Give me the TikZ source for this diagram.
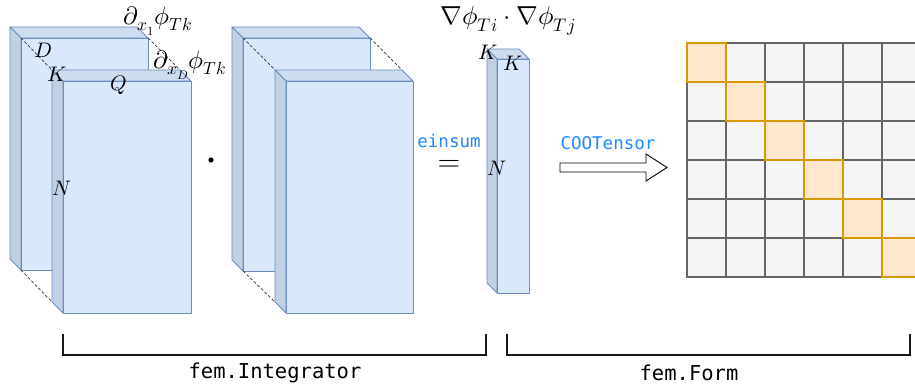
\documentclass[tikz,border=0pt]{standalone}
\usepackage{amsmath}
\usepackage{fontspec}
\usepackage{unicode-math}
\setmathfont{Latin Modern Math}
\setmonofont{DejaVu Sans Mono}
\usetikzlibrary{arrows.meta}

\definecolor{slabfront}{HTML}{DAE8FC}
\definecolor{slabline}{HTML}{6C8EBF}
\definecolor{slabtop}{HTML}{CEDCEF}
\definecolor{slabside}{HTML}{C2D0E4}
\definecolor{cellfill}{HTML}{F5F5F5}
\definecolor{cellline}{HTML}{666666}
\definecolor{diagfill}{HTML}{FFE6CC}
\definecolor{diagline}{HTML}{D79B00}
\definecolor{opblue}{HTML}{1E88FF}

\tikzset{
  slab/.style={draw=slabline, line width=0.9pt, line join=round},
  hidden/.style={densely dashed, line width=0.7pt, black!80},
  dimlbl/.style={inner sep=0pt, font=\fontsize{21}{23}\selectfont},
  mathlbl/.style={inner sep=0pt, font=\fontsize{25}{28}\selectfont},
  cell/.style={draw=cellline, fill=cellfill, line width=1.6pt, minimum size=39pt, inner sep=0pt},
  diag/.style={cell, draw=diagline, fill=diagfill},
  bracket/.style={line width=1.8pt, black!90},
  codelbl/.style={font=\ttfamily\fontsize{17.5}{20}\selectfont, text=opblue, inner sep=0pt},
}

% slab: name, x, y, width, height, depth (top-left of its box)
\newcommand{\slab}[6]{%
  \coordinate (#1-btl) at (#2,#3);
  \coordinate (#1-btr) at ({#2+#4-#6},#3);
  \coordinate (#1-ftl) at ({#2+#6},{#3+#6});
  \coordinate (#1-ftr) at ({#2+#4},{#3+#6});
  \coordinate (#1-fbr) at ({#2+#4},{#3+#5});
  \coordinate (#1-fbl) at ({#2+#6},{#3+#5});
  \coordinate (#1-bbl) at (#2,{#3+#5-#6});
  \draw[slab, fill=slabtop] (#1-btl) -- (#1-btr) -- (#1-ftr) -- (#1-ftl) -- cycle;
  \draw[slab, fill=slabside] (#1-btl) -- (#1-ftl) -- (#1-fbl) -- (#1-bbl) -- cycle;
  \draw[slab, fill=slabfront] (#1-ftl) rectangle (#1-fbr);
}

\begin{document}
\begin{tikzpicture}[x=1pt, y=-1pt]
\useasboundingbox (0,0) rectangle (915,387);

% gradient tensor
\slab{ga}{10}{27}{138}{243}{11}
\draw[hidden] (ga-ftl) -- (52,70);
\draw[hidden] (ga-ftr) -- (180,70);
\draw[hidden] (ga-fbl) -- (52,302);
\slab{gb}{52}{70}{139}{243}{11}
\node[dimlbl] (dD) at (43,50) {$D$};
\node[dimlbl] (dK) at (57,74) {$K$};
\node[dimlbl] (dQ) at (119,85) {$Q$};
\node[dimlbl] (dN) at (62,188) {$N$};
\node[mathlbl] (dx1) at (158,21) {$\partial_{x_1}\phi_{Tk}$};
\node[mathlbl] (dxD) at (190,65) {$\partial_{x_D}\phi_{Tk}$};

\fill (211,160) circle (2.6);

% second copy
\slab{ha}{232}{27}{138}{244}{11}
\draw[hidden] (ha-ftl) -- (275,70);
\draw[hidden] (ha-ftr) -- (402,70);
\draw[hidden] (ha-fbl) -- (275,302);
\slab{hb}{275}{70}{138}{243}{11}

% einsum
\node[codelbl] (einsum) at (449,141) {einsum};
\node[inner sep=0pt, font=\fontsize{31}{32}\selectfont] (eq) at (449,166) {=};

% local matrix column
\slab{col}{487}{49}{42}{244}{10}
\node[mathlbl, font=\fontsize{26}{30}\selectfont] (grad) at (508,21) {$\nabla\phi_{Ti}\cdot\nabla\phi_{Tj}$};
\node[dimlbl] (cK1) at (488,52) {$K$};
\node[dimlbl] (cK2) at (513,63) {$K$};
\node[dimlbl] (cN) at (497,168) {$N$};

% COOTensor arrow
\node[codelbl] (coo) at (608,143) {COOTensor};
\draw[line width=0.9pt, fill=white] (560,163) -- (646,163) -- (646,154) -- (667,167.5)
  -- (646,181) -- (646,172) -- (560,172) -- cycle;

% sparse matrix
\begin{scope}
\clip (680,35) rectangle (915,285);
\foreach \r in {0,...,5}
  \foreach \c in {0,...,6}
    \node[cell] (m-\r-\c) at ({706.5+39*\c},{62.5+39*\r}) {};
\foreach \i in {0,...,5}
  \node[diag] (d-\i) at ({706.5+39*\i},{62.5+39*\i}) {};
\end{scope}

% brackets
\draw[bracket] (63,334) |- (486,355) -- (486,334);
\draw[bracket] (507,334) |- (910,355) -- (910,334);
\node[font=\ttfamily\fontsize{20.5}{24}\selectfont, inner sep=0pt] (integ) at (275,373) {fem.Integrator};
\node[font=\ttfamily\fontsize{20.5}{24}\selectfont, inner sep=0pt] (form) at (689,373) {fem.Form};
\end{tikzpicture}
\end{document}
